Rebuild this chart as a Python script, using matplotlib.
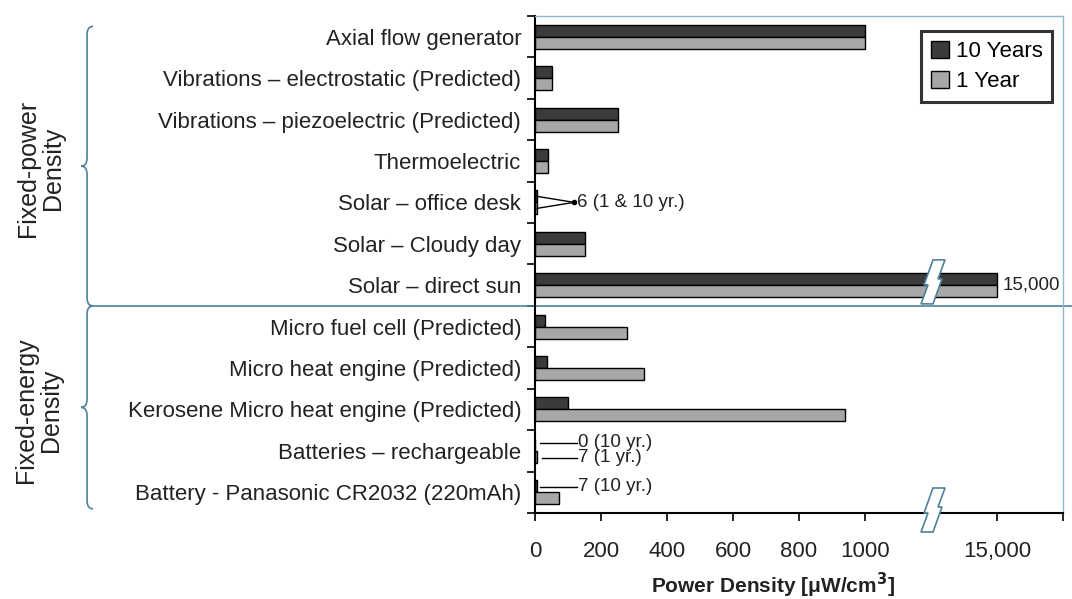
import matplotlib
matplotlib.use("Agg")
import matplotlib.pyplot as plt
import matplotlib.transforms as mtransforms
from matplotlib.path import Path
from matplotlib.patches import PathPatch, Polygon
import numpy as np

plt.rcParams['font.family'] = ['Liberation Sans', 'DejaVu Sans']

categories = [
    "Axial flow generator",
    "Vibrations \u2013 electrostatic (Predicted)",
    "Vibrations \u2013 piezoelectric (Predicted)",
    "Thermoelectric",
    "Solar \u2013 office desk",
    "Solar \u2013 Cloudy day",
    "Solar \u2013 direct sun",
    "Micro fuel cell (Predicted)",
    "Micro heat engine (Predicted)",
    "Kerosene Micro heat engine (Predicted)",
    "Batteries \u2013 rechargeable",
    "Battery - Panasonic CR2032 (220mAh)",
]
# power density in uW/cm3 (15,000 is drawn past the axis break)
ten_years = [1000, 50, 250, 40, 6, 150, 15000, 30, 37, 100, 0, 7]
one_year = [1000, 50, 250, 40, 6, 150, 15000, 280, 330, 940, 7, 72]

xtick_pos = [0, 200, 400, 600, 800, 1000, 1200, 1400, 1600]
xtick_labels = ["0", "200", "400", "600", "800", "1000", "", "15,000", ""]
break_at = 1200
broken_value = 15000
broken_pos = 1400

dark = "#3b3b3b"
light = "#a7a7a7"
blue = "#4f8199"
txt_c = "#222222"


def axis_pos(v):
    # values past the break are drawn at the 15,000 tick
    return broken_pos if v >= broken_value else v


fig = plt.figure(figsize=(10.72, 5.99), dpi=100)
ax = fig.add_axes([0.4991, 0.1436, 0.4925, 0.8297])

y = np.arange(len(categories))
h = 0.29
ax.barh(y - h / 2, [axis_pos(v) for v in ten_years], height=h, color=dark,
        edgecolor="black", linewidth=1.0, label="10 Years")
ax.barh(y + h / 2, [axis_pos(v) for v in one_year], height=h, color=light,
        edgecolor="black", linewidth=1.0, label="1 Year")

ax.set_ylim(len(categories) - 0.5, -0.5)
ax.set_xlim(0, 1600)
ax.set_yticks(y)
ax.set_yticklabels(categories, fontsize=16, color=txt_c)
ax.set_yticks(np.arange(len(categories) + 1) - 0.5, minor=True)
ax.tick_params(axis="y", which="major", length=0, pad=10)
ax.tick_params(axis="y", which="minor", length=6, width=1.2, direction="out")
ax.set_xticks(xtick_pos)
ax.set_xticklabels(xtick_labels, fontsize=16, color=txt_c)
ax.tick_params(axis="x", length=6, width=1.2, direction="out", pad=14)

for s in ["left", "bottom"]:
    ax.spines[s].set_linewidth(1.5)
for s in ["top", "right"]:
    ax.spines[s].set_color("#8fb8cf")
    ax.spines[s].set_linewidth(1.0)

ax.set_xlabel("Power Density [\u03bcW/cm$^\\mathbf{3}$]", fontsize=15,
              fontweight="bold", color=txt_c)
ax.xaxis.set_label_coords(0.45, -0.117)

leg = ax.legend(loc="upper right", bbox_to_anchor=(0.98, 0.97), fontsize=16,
                frameon=True, fancybox=False, handlelength=0.8, handleheight=0.8,
                handletextpad=0.3, borderpad=0.45, labelspacing=0.4,
                borderaxespad=0)
leg.get_frame().set_edgecolor("black")
leg.get_frame().set_linewidth(2.2)

# value notes for bars too small to see
i_desk = categories.index("Solar \u2013 office desk")
for dy in (-h / 2, h / 2):
    ax.plot([one_year[i_desk], 118], [i_desk + dy, i_desk], color="black", lw=1.0)
ax.plot([118], [i_desk], "o", color="black", ms=3)
ax.text(127, i_desk, "6 (1 & 10 yr.)", fontsize=13.5, va="center", color=txt_c)

i_sun = categories.index("Solar \u2013 direct sun")
ax.text(broken_pos + 18, i_sun, "15,000", fontsize=13.5, va="center", color=txt_c)

i_rech = categories.index("Batteries \u2013 rechargeable")
i_cr = categories.index("Battery - Panasonic CR2032 (220mAh)")
notes = [
    (i_rech - 0.2, 15, "0 (10 yr.)"),
    (i_rech + 0.17, 20, "7 (1 yr.)"),
    (i_cr - 0.13, 15, "7 (10 yr.)"),
]
for yy, x0, txt in notes:
    ax.plot([x0, 128], [yy, yy], color="black", lw=1.0)
    ax.text(131, yy, txt, fontsize=13.5, va="center", color=txt_c)

# axis break marks, shape given in pixels around the break point
bolt = np.array([[2, 22], [14, 22], [7, 3], [11, 3], [2, -22],
                 [-10, -22], [-3, -3], [-7, -3]]) / 100.0
blend = mtransforms.blended_transform_factory(ax.transData, ax.transAxes)
for yfrac in (0.465, 0.006):
    tr = fig.dpi_scale_trans + mtransforms.ScaledTranslation(break_at, yfrac, blend)
    ax.add_patch(Polygon(bolt, closed=True, facecolor="white",
                         edgecolor=blue, linewidth=1.2, transform=tr,
                         clip_on=False, zorder=5))

# group divider and braces
split = i_sun + 0.5
fy = mtransforms.blended_transform_factory(fig.transFigure, ax.transData)
ax.plot([0.084, 1.0], [split, split], color=blue, lw=1.2, transform=fy,
        clip_on=False)


def brace(top, bot, xo=0.0868, xs=0.0812, xt=0.0756, c=0.2):
    mid = (top + bot) / 2
    verts = [(xo, top), (xs, top), (xs, top + c),
             (xs, mid - c), (xs, mid), (xt, mid),
             (xs, mid), (xs, mid + c),
             (xs, bot - c), (xs, bot), (xo, bot)]
    codes = [Path.MOVETO, Path.CURVE3, Path.CURVE3,
             Path.LINETO, Path.CURVE3, Path.CURVE3,
             Path.CURVE3, Path.CURVE3,
             Path.LINETO, Path.CURVE3, Path.CURVE3]
    ax.add_patch(PathPatch(Path(verts, codes), facecolor="none", edgecolor=blue,
                           lw=1.2, transform=fy, clip_on=False))


brace(-0.25, split)
brace(split, len(categories) - 0.6)

fig.text(0.038, 1 - 168 / 599, "Fixed-power\nDensity", rotation=90, fontsize=18,
         ha="center", va="center", color=txt_c, linespacing=1.05)
fig.text(0.036, 1 - 410 / 599, "Fixed-energy\nDensity", rotation=90, fontsize=18,
         ha="center", va="center", color=txt_c, linespacing=1.05)

fig.savefig("out.png", dpi=100)
